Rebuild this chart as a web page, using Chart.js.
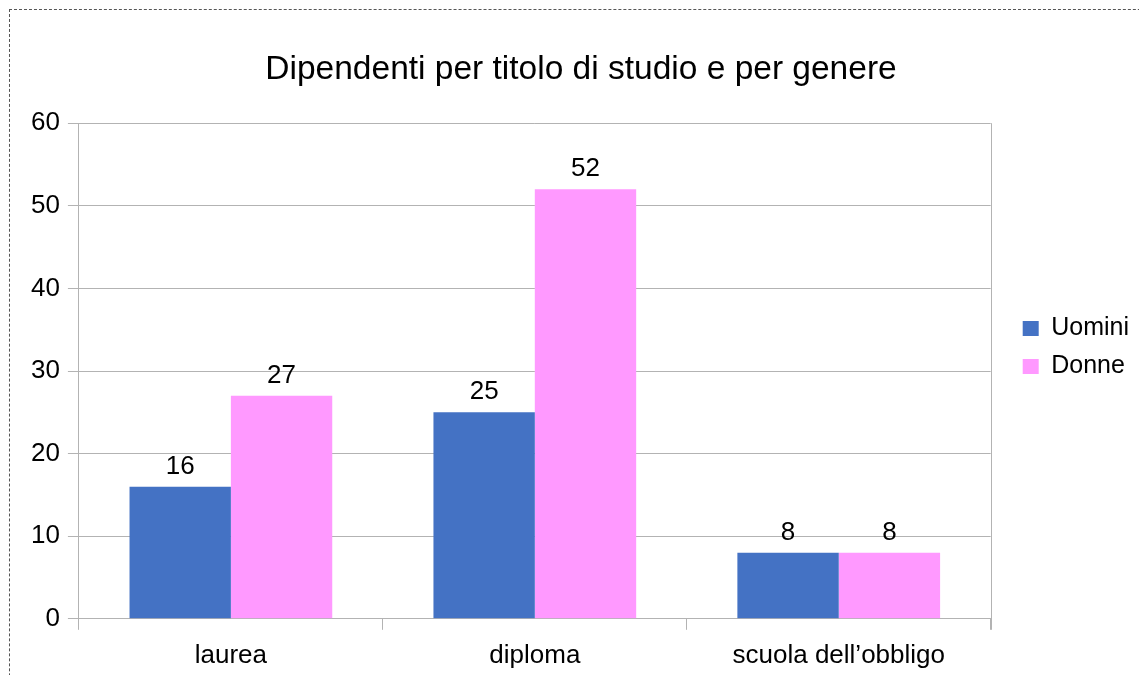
<!DOCTYPE html>
<html lang="it">
<head>
  <meta charset="UTF-8" />
  <title>Dipendenti per titolo di studio e per genere</title>
  <script src="https://cdn.jsdelivr.net/npm/chart.js"></script>
  <style>
    html, body {
      margin: 0;
      padding: 0;
      background: #fff;
      overflow: hidden;
    }
    .frame {
      position: absolute;
      left: 9px;
      top: 9px;
      width: 2000px;
      height: 2000px;
      border-top: 1px dashed #555;
      border-left: 1px dashed #555;
    }
    #wrap {
      position: absolute;
      left: 0;
      top: 0;
      width: 1139px;
      height: 675px;
    }
  </style>
</head>
<body>
  <div class="frame"></div>
  <div id="wrap">
    <canvas id="chart" width="1139" height="675"></canvas>
  </div>

  <script>
    const categories = ['laurea', 'diploma', 'scuola dell\u2019obbligo'];
    const uomini = [16, 25, 8];
    const donne = [27, 52, 8];
    const yTicks = [0, 10, 20, 30, 40, 50, 60];

    const gridGray = '#b3b3b3';
    const font = 'Liberation Sans, Arial, sans-serif';

    // values on top of each bar
    const barValues = {
      id: 'barValues',
      afterDatasetsDraw(chart) {
        const ctx = chart.ctx;
        ctx.save();
        ctx.font = '26px ' + font;
        ctx.fillStyle = '#000';
        ctx.textAlign = 'center';
        ctx.textBaseline = 'alphabetic';
        chart.data.datasets.forEach((ds, i) => {
          chart.getDatasetMeta(i).data.forEach((bar, j) => {
            ctx.fillText(ds.data[j], bar.x, bar.y - 13);
          });
        });
        ctx.restore();
      }
    };

    // right edge of the plot box
    const plotBorder = {
      id: 'plotBorder',
      beforeDatasetsDraw(chart) {
        const a = chart.chartArea;
        const ctx = chart.ctx;
        ctx.save();
        ctx.strokeStyle = gridGray;
        ctx.lineWidth = 1;
        ctx.beginPath();
        ctx.moveTo(Math.round(a.right) + 0.5, a.top);
        ctx.lineTo(Math.round(a.right) + 0.5, a.bottom + 11);
        ctx.stroke();
        ctx.restore();
      }
    };

    // leave a wider gap between the plot and the legend
    const legendGap = 19;
    const legendShift = {
      id: 'legendShift',
      afterInit(chart) {
        const lg = chart.legend;
        const fit = lg.fit;
        lg.fit = function () {
          fit.call(this);
          this.width += legendGap;
        };
      },
      afterLayout(chart) {
        chart.legend.left += legendGap;
        chart.legend.top += 8;
      }
    };

    new Chart(document.getElementById('chart'), {
      type: 'bar',
      data: {
        labels: categories,
        datasets: [
          { label: 'Uomini', data: uomini, backgroundColor: '#4472c4' },
          { label: 'Donne', data: donne, backgroundColor: '#ff99ff' }
        ]
      },
      options: {
        responsive: false,
        animation: false,
        layout: { padding: { left: 23, right: 0, top: 12, bottom: 0 } },
        datasets: {
          bar: { categoryPercentage: 0.667, barPercentage: 1.0, borderWidth: 0 }
        },
        scales: {
          x: {
            afterFit(scale) {
              scale.height -= 6;
            },
            grid: { drawOnChartArea: false, color: gridGray, tickLength: 11 },
            border: { color: gridGray },
            ticks: { color: '#000', font: { family: font, size: 26 }, padding: 10 }
          },
          y: {
            min: 0,
            max: 60,
            afterBuildTicks(scale) {
              scale.ticks = yTicks.map(v => ({ value: v }));
            },
            grid: { color: gridGray, tickLength: 11 },
            border: { color: gridGray },
            ticks: { color: '#000', font: { family: font, size: 26 }, padding: 8 }
          }
        },
        plugins: {
          title: {
            display: true,
            text: 'Dipendenti per titolo di studio e per genere',
            color: '#000',
            font: { family: font, size: 33.5, weight: 'normal' },
            padding: { top: 38, bottom: 33 }
          },
          legend: {
            position: 'right',
            labels: {
              color: '#000',
              font: { family: font, size: 25 },
              boxWidth: 16,
              boxHeight: 15,
              padding: 13
            }
          },
          tooltip: { enabled: false }
        }
      },
      plugins: [barValues, plotBorder, legendShift]
    });
  </script>
</body>
</html>
